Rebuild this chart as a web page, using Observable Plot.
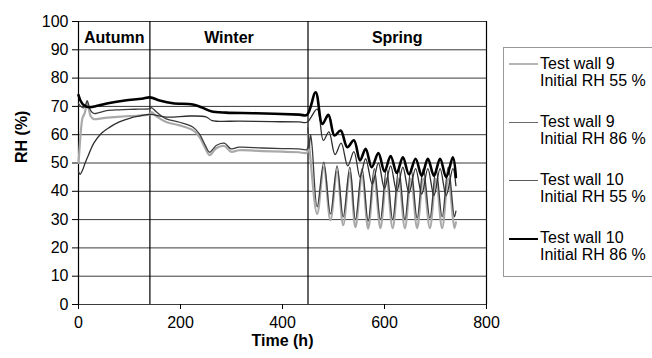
<!DOCTYPE html>
<html>
<head>
<meta charset="utf-8">
<script src="https://cdn.jsdelivr.net/npm/d3@7"></script>
<script src="https://cdn.jsdelivr.net/npm/@observablehq/plot@0.6"></script>
<style>
  html, body { margin: 0; padding: 0; background: #fff; overflow: hidden; }
  #wrap { position: relative; width: 652px; height: 358px; font-family: "Liberation Sans", Arial, sans-serif; }
  .lg-box { position: absolute; left: 503px; top: 47px; width: 170px; height: 230px; border: 1px solid #999; box-sizing: border-box; }
  .lg-text { position: absolute; left: 540px; font-size: 16px; line-height: 17px; color: #000; white-space: nowrap; }
  .lg-line { position: absolute; left: 509px; width: 29px; }
</style>
</head>
<body>
<div id="wrap"></div>
<script>
// ---- data (time in h, RH in %) ----
const xTicks = [0, 200, 400, 600, 800];
const yTicks = [0, 10, 20, 30, 40, 50, 60, 70, 80, 90, 100];
const seasons = ["Autumn", "Winter", "Spring"];
const seasonCenters = [70, 295, 625];
const seasonBounds = [140, 450, 800];
const legendTitles = ["Test wall 9", "Test wall 9", "Test wall 10", "Test wall 10"];
const legendSubs = ["Initial RH 55 %", "Initial RH 86 %", "Initial RH 55 %", "Initial RH 86 %"];

const wall9rh55 = [
  [0,50],[2,55],[5,62],[8,66],[12,67.5],[15,70],[17,71.5],[20,69.5],[24,66.5],[30,65.5],[45,65.8],[70,66.2],[100,66.6],[140,67.2],
  [143,68],[153,66.5],[172,64.5],[198,63.3],[224,61.6],[237,59.2],[247,55.8],[257,52.8],[264,54],[270,55.2],[286,56],[299,54],[315,54.5],[360,54.2],[400,54],[432,53.8],[448,53.7],
  [450,60],[453,55],[468,32],[481,48.5],[494,29.7],[507,47],[519,28],[532,46.5],[543,27.3],[556,45.5],[568,26.8],[580,45],[592,27],[604,44.5],[616,27],[628,44.5],[640,27],[652,44.5],[664,27],[676,44.5],[689,27],[701,44.5],[713,27],[725,44.5],[737,27],[740,29]
];
const wall9rh86 = [
  [0,71],[5,70],[10,69.5],[14,70.5],[17,72],[20,70.5],[24,68.5],[30,67.5],[40,67.8],[55,68.5],[80,68.8],[110,69],[140,69.2],
  [143,69.6],[153,68],[172,65.6],[198,64.4],[224,62.7],[237,60.3],[247,56.8],[257,53.8],[264,55],[270,56.2],[286,57],[299,55],[315,55.6],[360,55.3],[400,55.1],[432,55],[448,54.8],
  [450,62.5],[452,55],[455,60],[458,56],[468,34.5],[481,50.3],[494,32],[507,49],[519,31],[532,48.5],[543,30],[556,48],[568,29.5],[580,48],[592,30],[604,48],[616,30],[628,48],[640,30],[652,48],[664,30.5],[676,48],[689,30.5],[701,48],[713,31],[725,48.5],[737,31],[740,33]
];
const wall10rh55 = [
  [0,47],[3,46],[8,47.5],[13,50],[20,53],[30,57],[45,60.5],[60,62.5],[80,64.5],[100,65.8],[120,66.6],[140,67.2],
  [172,66.2],[218,66.6],[250,66.3],[262,65],[316,64.8],[380,64.6],[433,64.5],[448,64.4],
  [468,69],[480,58],[491,61],[503,53],[515,57],[528,49],[540,54],[552,45],[563,51.5],[576,42.5],[588,50],[600,41],[612,49],[624,40],[636,48.5],[648,39.5],[661,48],[673,39],[685,48],[697,38.5],[709,48],[721,38.5],[734,48],[740,42]
];
const wall10rh86 = [
  [0,74],[4,72],[10,70.5],[20,69.7],[39,70.3],[58,71.1],[91,72.1],[124,72.7],[140,73.2],
  [159,72.1],[185,71.1],[224,70.7],[241,69.7],[260,68.3],[289,67.8],[348,67.6],[433,67.1],[448,67],
  [465,75],[478,63.8],[490,67],[502,59.7],[514,61.5],[527,55.6],[540,58],[552,50.9],[563,55],[575,48.5],[588,53.5],[600,47],[612,52.5],[624,46.5],[636,52],[648,46],[661,51.5],[673,45.5],[685,51.5],[697,45.5],[709,51.5],[721,45],[734,52],[740,45]
];

// ---- styles ----
const seriesStyles = [
  {data: wall9rh55, stroke: "#a9a9a9", width: 2.2, legendStroke: "#b5b5b5", legendWidth: 1.5},
  {data: wall9rh86, stroke: "#3c3c3c", width: 1.3, legendStroke: "#6a6a6a", legendWidth: 1.5},
  {data: wall10rh55, stroke: "#2e2e2e", width: 1.3, legendStroke: "#5a5a5a", legendWidth: 1.5},
  {data: wall10rh86, stroke: "#000", width: 2.6, legendStroke: "#000", legendWidth: 2.4}
];

const lineMarks = seriesStyles.map(s => Plot.line(s.data, {
  x: d => d[0], y: d => d[1], stroke: s.stroke, strokeWidth: s.width, curve: "catmull-rom"
}));

const chart = Plot.plot({
  width: 652, height: 358,
  marginLeft: 78, marginRight: 166, marginTop: 21, marginBottom: 54,
  style: {fontFamily: "'Liberation Sans', Arial, sans-serif", fontSize: "16px", color: "#000", background: "#fff"},
  x: {domain: [0, 800]},
  y: {domain: [0, 100]},
  marks: [
    Plot.ruleY(yTicks, {stroke: "#3a3a3a", strokeWidth: 1}),
    Plot.ruleX([0, ...seasonBounds], {stroke: "#000", strokeWidth: 1.2}),
    Plot.axisY({ticks: yTicks, tickSize: 6, tickPadding: 4, label: null, fontSize: 16}),
    Plot.axisX({ticks: xTicks, tickSize: 5, tickPadding: 7, label: null, fontSize: 16}),
    ...lineMarks,
    Plot.text(seasons, {x: (d, i) => seasonCenters[i], frameAnchor: "top", dy: 10, fontWeight: "bold", fontSize: 16}),
    Plot.text(["RH (%)"], {frameAnchor: "left", dx: -57, rotate: -90, fontWeight: "bold", fontSize: 16}),
    Plot.text(["Time (h)"], {frameAnchor: "bottom", dy: 41, fontWeight: "bold", fontSize: 16})
  ]
});

const wrap = document.getElementById("wrap");
wrap.appendChild(chart);

// legend
const box = document.createElement("div");
box.className = "lg-box";
wrap.appendChild(box);
seriesStyles.forEach((s, i) => {
  const top = 54.5 + 58.3 * i;
  const t = document.createElement("div");
  t.className = "lg-text";
  t.style.top = top + "px";
  t.innerHTML = "";
  const l1 = document.createElement("div"); l1.textContent = legendTitles[i];
  const l2 = document.createElement("div"); l2.textContent = legendSubs[i];
  t.appendChild(l1); t.appendChild(l2);
  wrap.appendChild(t);
  const ln = document.createElement("div");
  ln.className = "lg-line";
  ln.style.top = (top + 9.5 - s.legendWidth / 2) + "px";
  ln.style.height = s.legendWidth + "px";
  ln.style.background = s.legendStroke;
  wrap.appendChild(ln);
});
</script>
</body>
</html>
